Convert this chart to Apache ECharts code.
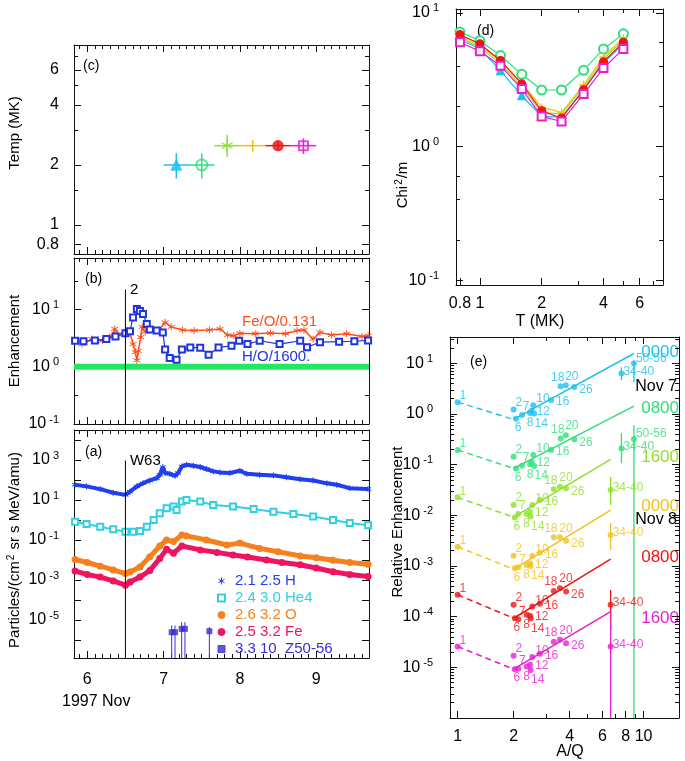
<!DOCTYPE html>
<html><head><meta charset="utf-8">
<script src="https://cdn.jsdelivr.net/npm/echarts@6/dist/echarts.min.js"></script>
<style>html,body{margin:0;padding:0;background:#fff;}#chart{width:685px;height:761px;}</style>
</head><body><div id="chart"></div>
<script>
// ================= DATA =================
// Panel (a): particle intensities vs time (day of 1997 Nov)
const hTime  = [5.84,5.99,6.17,6.34,6.5,6.56,6.65,6.73,6.82,6.91,6.95,6.99,7.02,7.08,7.15,7.19,7.24,7.3,7.39,7.48,7.56,7.65,7.74,7.87,8.0,8.09,8.26,8.44,8.61,8.79,8.96,9.14,9.27,9.44,9.68];
const hFlux  = [58,48,35,23,18,26,48,69,95,123,182,447,224,204,162,224,479,575,513,447,355,270,240,224,290,204,182,170,138,110,95,68,58,39,35];
const heTime = [5.84,5.99,6.17,6.34,6.5,6.6,6.69,6.78,6.87,6.95,7.04,7.13,7.17,7.24,7.3,7.48,7.65,7.91,8.18,8.44,8.7,8.96,9.22,9.44,9.68];
const heFlux = [0.82,0.63,0.46,0.34,0.26,0.26,0.28,0.46,1.0,2.2,3.9,4.7,3.2,8.3,10,8.3,5.6,4.7,3.5,2.6,2.0,1.5,1.0,0.7,0.55];
const oTime  = [5.84,6.0,6.17,6.34,6.5,6.56,6.69,6.82,6.95,7.04,7.13,7.24,7.3,7.56,7.83,8.0,8.26,8.5,8.79,9.0,9.22,9.44,9.68];
const oFlux  = [0.0106,0.0075,0.0049,0.0032,0.0021,0.0025,0.0045,0.0144,0.05,0.1,0.083,0.178,0.16,0.1,0.056,0.07,0.038,0.026,0.016,0.013,0.0098,0.0075,0.0062];
const feTime = [5.84,6.0,6.17,6.34,6.5,6.56,6.69,6.82,6.95,7.04,7.13,7.24,7.48,7.7,7.91,8.1,8.35,8.55,8.79,9.0,9.22,9.44,9.68];
const feFlux = [0.0028,0.0019,0.0014,0.0009,0.00055,0.0008,0.0014,0.003,0.0118,0.034,0.022,0.05,0.032,0.024,0.0178,0.014,0.01,0.0075,0.0058,0.004,0.0026,0.0019,0.0015];
const zTime  = [7.106,7.15,7.237,7.28,7.6];
const zFlux  = [2.45e-6,2.45e-6,3.6e-6,3.6e-6,2.75e-6];
const zFluxHi= [5.3e-6,5.3e-6,7.8e-6,7.8e-6,4.4e-6];
const zFluxLo= [1e-9,1e-9,1e-9,1e-9,1e-9];
const legendNames = ['2.1 2.5 H','2.4 3.0 He4','2.6 3.2 O','2.5 3.2 Fe','3.3 10  Z50-56'];
const shockTime = 6.5;
const shockTopA = 900, shockTopB = 22;

// Panel (b): abundance ratios
const feoTime  = [5.84,5.93,6.06,6.2,6.33,6.36,6.4,6.5,6.56,6.6,6.63,6.65,6.67,6.7,6.72,6.76,6.85,6.94,7.02,7.1,7.25,7.4,7.6,7.74,7.84,7.92,8.0,8.2,8.4,8.6,8.75,8.84,8.96,9.05,9.2,9.4,9.6,9.68];
const feoRatio = [2.86,2.5,3.06,2.86,3.5,4.6,3.7,4.0,3.9,2.5,1.8,1.3,1.9,3.3,5.0,4.1,4.5,4.4,6.0,5.0,4.4,4.3,4.4,4.6,3.6,3.5,3.85,3.8,3.9,3.8,4.3,4.4,3.06,4.0,3.6,3.8,3.4,3.5];
const hoTime   = [5.84,5.95,6.1,6.25,6.37,6.5,6.56,6.6,6.65,6.69,6.73,6.78,6.82,6.91,6.99,7.02,7.08,7.17,7.24,7.35,7.48,7.59,7.72,7.89,7.99,8.1,8.26,8.52,8.79,8.88,9.05,9.3,9.5,9.68];
const hoRatio  = [2.86,2.8,2.9,3.06,3.4,3.85,4.2,7.3,10.3,9.5,8.4,5.6,4.5,4.3,4.0,2.0,1.42,1.33,2.0,2.18,2.15,1.62,2.18,2.33,2.86,2.5,2.86,2.5,2.86,2.2,2.7,2.75,2.8,2.9];
const refLevel = 1;

// Panel (c): source temperatures per 8-h interval
const tempTime  = [7.167,7.5,7.833,8.167,8.5,8.833];
const tempStart = [7.0,7.333,7.667,8.0,8.333,8.667];
const tempEnd   = [7.333,7.667,8.0,8.333,8.667,9.0];
const tempMK    = [2.0,2.0,2.5,2.5,2.5,2.5];
const tempLo    = [1.71,1.71,2.2,2.33,2.36,2.27];
const tempHi    = [2.29,2.29,2.83,2.67,2.63,2.72];

// Panel (d): chi^2/m vs T
const chiT = [0.8,1.0,1.26,1.6,2.0,2.5,3.2,4.0,5.0];
const chiNov7_0000 = [6.3,5.4,3.7,2.4,1.68,1.66,2.66,4.2,5.9];
const chiNov7_0800 = [7.2,6.2,4.8,3.47,2.65,2.65,3.72,5.38,6.97];
const chiNov7_1600 = [6.5,5.5,4.2,2.8,1.8,1.75,2.8,4.5,6.3];
const chiNov8_0000 = [6.7,5.6,4.4,3.0,1.97,1.8,2.9,4.7,6.5];
const chiNov8_0800 = [6.88,5.86,4.4,2.94,1.85,1.63,2.66,4.3,6.03];
const chiNov8_1600 = [6.03,5.16,4.03,2.69,1.68,1.54,2.47,3.87,5.38];

// Panel (e): relative enhancement vs A/Q
const eLabels   = ['1','2','6','7','8','10','12','14','16','18','20','26','34-40','50-56'];
const aqAt2MK   = [1.0,2.0,2.06,2.22,2.45,2.55,2.5,2.58,3.18,3.58,3.82,4.24,7.6,8.87];
const aqAt25MK  = [1.0,2.0,2.03,2.12,2.35,2.52,2.45,2.47,2.77,3.29,3.55,3.83,6.65];
const enhNov7_0000 = [1.71,1.23,0.80,0.95,1.05,1.49,1.15,1.02,1.87,3.53,3.69,3.42,6.28,9.9];
const enhNov7_0800 = [0.194,0.143,0.0843,0.0949,0.102,0.154,0.114,0.094,0.194,0.329,0.382,0.315,0.209,0.32];
const enhNov7_1600 = [0.0226,0.016,0.0091,0.0106,0.0106,0.016,0.0118,0.0095,0.02,0.0325,0.0366,0.034,0.0316];
const enhNov8_0000 = [0.0024,0.0016,0.0009,0.00094,0.00105,0.00158,0.00113,0.001,0.00183,0.00368,0.00368,0.00316,0.0041];
const enhNov8_0800 = [0.00027,0.000171,9.3e-5,8.9e-5,1.09e-4,1.58e-4,1.04e-4,9.3e-5,1.79e-4,3.22e-4,3.65e-4,3.12e-4,1.71e-4];
const enhNov8_1600 = [2.58e-5,1.69e-5,9.2e-6,9.4e-6,1.04e-5,1.59e-5,1.12e-5,8.9e-6,1.85e-5,3.2e-5,3.5e-5,3.0e-5,2.58e-5];
const fitStartAQ = [2,2,2,2,2,2];
const fitStartVal = [0.78,0.0843,0.0092,8.63e-4,9.3e-5,9.2e-6];
const fitEndAQ  = [8.87,8.87,6.65,6.65,6.65,6.65];
const fitEndVal = [15.6,1.43,0.127,0.0127,1.36e-3,1.26e-4];
const errHi34 = [8.36,0.418,0.0577,0.00705,3.37e-4,1.24e-4];
const errLo34 = [4.63,0.107,0.016,0.00207,5.5e-5,1e-9];
const errHi50 = [11.5,0.6];
const errLo50 = [4.2,1e-9];
const rowTimes = ['0000','0800','1600','0000','0800','1600'];
const rowDays  = ['Nov 7','Nov 8'];

// Tick labels
const dayLabels = [6,7,8,9];
const tempLabels = [0.8,1,2,4,6];
const ratioLabels = [0.1,1,10];
const fluxLabels = [1e-5,1e-3,1e-1,10,1000];
const chiLabels = [0.1,1,10];
const tLabels = [0.8,1,2,4,6];
const enhLabels = [1e-5,1e-4,1e-3,1e-2,1e-1,1,10];
const aqLabels = [1,2,4,6,8,10];

// ================= STYLE / LAYOUT =================
const FONT = '"Liberation Sans", Arial, Helvetica, sans-serif';
const rowColors = ['#1ec0f0','#2ee07a','#8ee02a','#f2c21a','#ee1515','#e81ed0'];
const ASTER = 'path://M5,0L5,10M0.67,2.5L9.33,7.5M0.67,7.5L9.33,2.5';
const PLUS = 'path://M5,0L5,10M0,5L10,5';
const rowSymbols = ['triangle','emptyCircle',ASTER,PLUS,'circle','emptyRect'];
const RICH = {
  b: {fontSize: 16, fontFamily: FONT, color: '#000'},
  s: {fontSize: 11, fontFamily: FONT, color: '#000', verticalAlign: 'bottom', padding: [0,0,9,3]}
};
const fmtLog = v => '{b|10}{s|' + Math.round(Math.log10(v)) + '}';
const fmtPlain = v => '{b|' + v + '}';

const dayMinor = []; for (let k = 58; k <= 96; k++) if (k % 10) dayMinor.push(k / 10);
const decades = (a, b) => { const r = []; for (let e = a; e <= b; e++) r.push(Math.pow(10, e)); return r; };
const logMinor = (a, b, ms) => { const r = []; for (let e = a; e <= b; e++) ms.forEach(m => r.push(m * Math.pow(10, e))); return r; };

const xAxes = [], yAxes = [];
function addAxes(list, gridIndex, type, min, max, posA, posB, major, minor, labels, fmt, margin) {
  const idx = list.length;
  [posA, posB].forEach((pos, k) => {
    const common = {type, gridIndex, min, max, position: pos,
      splitLine: {show: false}, minorTick: {show: false}, minorSplitLine: {show: false}};
    list.push(Object.assign({}, common, {
      axisLine: {show: true, onZero: false, lineStyle: {color: '#111', width: 1}},
      axisTick: {show: true, inside: true, length: 7, customValues: major, lineStyle: {color: '#111', width: 1}},
      axisLabel: (k === 0 && labels) ? {show: true, customValues: labels, formatter: fmt, margin: margin,
        color: '#000', fontSize: 16, fontFamily: FONT, rich: RICH} : {show: false}
    }));
    list.push(Object.assign({}, common, {
      axisLine: {show: false, onZero: false},
      axisTick: {show: true, inside: true, length: 4, customValues: minor, lineStyle: {color: '#111', width: 1}},
      axisLabel: {show: false}
    }));
  });
  return idx;
}
const DMIN = 5.826, DMAX = 9.692;
// grid 0 (c)
const xC = addAxes(xAxes, 0, 'value', DMIN, DMAX, 'bottom', 'top', dayLabels, dayMinor, null);
const yC = addAxes(yAxes, 0, 'log', 0.715, 8.0, 'left', 'right', tempLabels, [1.5,3,5,7], tempLabels, fmtPlain, 15);
// grid 1 (b)
const xB = addAxes(xAxes, 1, 'value', DMIN, DMAX, 'bottom', 'top', dayLabels, dayMinor, null);
const yB = addAxes(yAxes, 1, 'log', 0.1, 80, 'left', 'right', decades(-1,1), [0.316,3.16,31.6], ratioLabels, fmtLog, 15);
// grid 2 (a)
const xA = addAxes(xAxes, 2, 'value', DMIN, DMAX, 'bottom', 'top', dayLabels, dayMinor, dayLabels, fmtPlain, 14);
const yA = addAxes(yAxes, 2, 'log', 1.26e-7, 3.16e4, 'left', 'right', decades(-6,4), [], fluxLabels, fmtLog, 15);
// grid 3 (d)
const xD = addAxes(xAxes, 3, 'log', 0.765, 7.8, 'bottom', 'top', tLabels, [3,5,7], tLabels, fmtPlain, 11);
const yD = addAxes(yAxes, 3, 'log', 0.092, 10.7, 'left', 'right', decades(-1,1), logMinor(-1,0,[2,4,6]), chiLabels, fmtLog, 17);
// grid 4 (e)
const xE = addAxes(xAxes, 4, 'log', 0.91, 15.5, 'bottom', 'top', aqLabels, [3,5,7,9], aqLabels, fmtPlain, 11);
const yE = addAxes(yAxes, 4, 'log', 1e-6, 33, 'left', 'right', decades(-6,1), logMinor(-6,1,[2,3,4,5,6,7,8,9]), enhLabels, fmtLog, 17);

const zip = (xs, ys) => xs.map((x, i) => [x, ys[i]]);
const series = [];

// ---------- (c) ----------
series.push({type: 'scatter', xAxisIndex: xC, yAxisIndex: yC, z: 3,
  data: tempTime.map((t, i) => ({value: [t, tempMK[i]], symbol: rowSymbols[i],
    symbolSize: [10,11,11,10,10,9][i],
    itemStyle: {color: rowColors[i], borderColor: rowColors[i], borderWidth: 1.3}}))});
series.push({type: 'custom', xAxisIndex: xC, yAxisIndex: yC, z: 4, clip: true,
  data: tempTime.map((t, i) => [t, tempMK[i], tempLo[i], tempHi[i], tempStart[i], tempEnd[i]]),
  renderItem: (params, api) => {
    const c = rowColors[params.dataIndex];
    const a = api.coord([api.value(4), api.value(1)]), b = api.coord([api.value(5), api.value(1)]);
    const v1 = api.coord([api.value(0), api.value(2)]), v2 = api.coord([api.value(0), api.value(3)]);
    return {type: 'group', children: [
      {type: 'line', shape: {x1: a[0], y1: a[1], x2: b[0], y2: b[1]}, style: {stroke: c, lineWidth: 1.5}},
      {type: 'line', shape: {x1: v1[0], y1: v1[1], x2: v2[0], y2: v2[1]}, style: {stroke: c, lineWidth: 1.5}}
    ]};
  }});

// ---------- (b) ----------
series.push({type: 'line', xAxisIndex: xB, yAxisIndex: yB, data: [[DMIN, refLevel], [DMAX, refLevel]],
  symbol: 'none', lineStyle: {color: '#22e860', width: 6}, z: 1});
series.push({type: 'line', xAxisIndex: xB, yAxisIndex: yB, data: zip(feoTime, feoRatio),
  symbol: ASTER, symbolSize: 7, lineStyle: {color: '#ff4d1a', width: 1.5},
  itemStyle: {color: '#ff4d1a', borderColor: '#ff4d1a', borderWidth: 1}, z: 3});
series.push({type: 'line', xAxisIndex: xB, yAxisIndex: yB, data: zip(hoTime, hoRatio),
  symbol: 'emptyRect', symbolSize: 6, lineStyle: {color: '#2035e0', width: 1.2},
  itemStyle: {color: '#2035e0', borderColor: '#2035e0', borderWidth: 1}, z: 4});
series.push({type: 'line', xAxisIndex: xB, yAxisIndex: yB,
  data: [[shockTime, 0.1], {value: [shockTime, shockTopB], label: {show: true, formatter: '2', position: 'right', distance: 4,
    color: '#000', fontSize: 15, fontFamily: FONT}}],
  symbol: 'circle', symbolSize: 1, itemStyle: {color: '#000'}, lineStyle: {color: '#000', width: 1}, z: 5});

// ---------- (a) ----------
series.push({name: legendNames[0], type: 'line', xAxisIndex: xA, yAxisIndex: yA, data: zip(hTime, hFlux),
  symbol: ASTER, symbolSize: 6, lineStyle: {color: '#1f3ff0', width: 4},
  itemStyle: {color: '#1f3ff0', borderColor: '#1f3ff0', borderWidth: 1}, z: 3});
series.push({name: legendNames[1], type: 'line', xAxisIndex: xA, yAxisIndex: yA, data: zip(heTime, heFlux),
  symbol: 'emptyRect', symbolSize: 6, lineStyle: {color: '#30d0e0', width: 2},
  itemStyle: {color: '#30d0e0', borderColor: '#30d0e0', borderWidth: 1}, z: 3});
series.push({name: legendNames[2], type: 'line', xAxisIndex: xA, yAxisIndex: yA, data: zip(oTime, oFlux),
  symbol: 'circle', symbolSize: 7, lineStyle: {color: '#f5801e', width: 5},
  itemStyle: {color: '#f5801e'}, z: 3});
series.push({name: legendNames[3], type: 'line', xAxisIndex: xA, yAxisIndex: yA, data: zip(feTime, feFlux),
  symbol: 'circle', symbolSize: 7, lineStyle: {color: '#ee1460', width: 5},
  itemStyle: {color: '#ee1460'}, z: 3});
series.push({type: 'custom', xAxisIndex: xA, yAxisIndex: yA, clip: true, z: 3,
  data: zTime.map((t, i) => [t, zFlux[i], zFluxLo[i], zFluxHi[i]]),
  renderItem: (params, api) => {
    const a = api.coord([api.value(0), api.value(2)]), b = api.coord([api.value(0), api.value(3)]);
    return {type: 'line', shape: {x1: a[0], y1: a[1], x2: b[0], y2: b[1]}, style: {stroke: '#3a2fd0', lineWidth: 1}};
  }});
series.push({name: legendNames[4], type: 'scatter', xAxisIndex: xA, yAxisIndex: yA, data: zip(zTime, zFlux),
  symbol: 'rect', symbolSize: 6, itemStyle: {color: '#3a2fd0'}, z: 4});
series.push({type: 'line', xAxisIndex: xA, yAxisIndex: yA,
  data: [[shockTime, 1e-8], {value: [shockTime, shockTopA], label: {show: true, formatter: 'W63', position: 'right', distance: 4,
    color: '#000', fontSize: 15, fontFamily: FONT}}],
  symbol: 'circle', symbolSize: 1, itemStyle: {color: '#000'}, lineStyle: {color: '#000', width: 1}, z: 5});

// ---------- (d) ----------
const chiRows = [chiNov7_0000, chiNov7_0800, chiNov7_1600, chiNov8_0000, chiNov8_0800, chiNov8_1600];
[0,2,3,1,5,4].forEach(r => {
  series.push({type: 'line', xAxisIndex: xD, yAxisIndex: yD, data: zip(chiT, chiRows[r]),
    symbol: rowSymbols[r], symbolSize: r === 1 ? 9 : 8, lineStyle: {color: rowColors[r], width: 1.2},
    itemStyle: {color: rowColors[r], borderColor: rowColors[r], borderWidth: 1.2}, z: 3 + r});
});

// ---------- (e) ----------
const labelPlace = {
  '1': {position: 'right', offset: [-3, -6]},
  '2': {position: 'right', offset: [-3, -7]},
  '6': {position: 'bottom', offset: [2, -2]},
  '7': {position: 'top', offset: [4, 3]},
  '8': {position: 'bottom', offset: [0, -1]},
  '10': {position: 'right', offset: [-2, -6]},
  '12': {position: 'right', offset: [0, 1]},
  '14': {position: 'bottom', offset: [7, -1]},
  '16': {position: 'right', offset: [0, 2]},
  '18': {position: 'top', offset: [-3, 2]},
  '20': {position: 'top', offset: [6, 2]},
  '26': {position: 'right', offset: [0, 3]},
  '34-40': {position: 'right', offset: [-3, -2]},
  '50-56': {position: 'right', offset: [-3, -5]}
};
const enhRows = [enhNov7_0000, enhNov7_0800, enhNov7_1600, enhNov8_0000, enhNov8_0800, enhNov8_1600];
enhRows.forEach((vals, r) => {
  const aq = r < 2 ? aqAt2MK : aqAt25MK;
  const c = rowColors[r];
  // dashed H extension
  series.push({type: 'line', xAxisIndex: xE, yAxisIndex: yE, symbol: 'none',
    data: [[aq[0], vals[0]], [fitStartAQ[r], fitStartVal[r]]], lineStyle: {color: c, width: 1.5, type: [6, 4]}, z: 2});
  // fit line
  series.push({type: 'line', xAxisIndex: xE, yAxisIndex: yE, symbol: 'none',
    data: [[fitStartAQ[r], fitStartVal[r]], [fitEndAQ[r], fitEndVal[r]]], lineStyle: {color: c, width: 1.5}, z: 2});
  // error bars
  const eb = [[aq[12], errLo34[r], errHi34[r]]];
  if (r < 2) eb.push([aq[13], errLo50[r], errHi50[r]]);
  series.push({type: 'custom', xAxisIndex: xE, yAxisIndex: yE, clip: true, z: 2, data: eb,
    renderItem: (params, api) => {
      const a = api.coord([api.value(0), api.value(1)]), b = api.coord([api.value(0), api.value(2)]);
      return {type: 'line', shape: {x1: a[0], y1: a[1], x2: b[0], y2: b[1]}, style: {stroke: c, lineWidth: 1.3}};
    }});
  // points with element labels
  series.push({type: 'scatter', xAxisIndex: xE, yAxisIndex: yE, symbol: 'circle', symbolSize: 6, z: 3,
    itemStyle: {color: c},
    label: {show: true, formatter: '{b}', color: c, fontSize: 12, fontFamily: FONT, distance: 2},
    data: vals.map((v, i) => ({name: eLabels[i], value: [aq[i], v], label: labelPlace[eLabels[i]]}))});
});

// ================= TEXT =================
const T = (x, y, text, opts) => Object.assign({type: 'text', x: x, y: y, silent: true,
  style: Object.assign({text: text, fill: '#000', font: '15px ' + FONT, align: 'left', verticalAlign: 'middle'}, opts || {})});
const R = (x, y, text, rich) => ({type: 'text', x: x, y: y, rotation: Math.PI / 2, silent: true,
  style: {text: text, fill: '#000', font: '15px ' + FONT, align: 'center', verticalAlign: 'middle', rich: rich}});
const richSup = {n: {fontSize: 15, fontFamily: FONT, fill: '#000'}, s: {fontSize: 10, fontFamily: FONT, fill: '#000', verticalAlign: 'bottom', padding: [0, 1, 8, 1]}};
const graphic = [
  T(83, 66, '(c)', {font: '14px ' + FONT}),
  T(85, 279, '(b)', {font: '14px ' + FONT}),
  T(85, 452, '(a)', {font: '14px ' + FONT}),
  T(477, 31, '(d)', {font: '14px ' + FONT}),
  T(470, 362, '(e)', {font: '14px ' + FONT}),
  R(15, 133, 'Temp (MK)'),
  R(15, 341, 'Enhancement'),
  R(15, 550, '{n|Particles/(cm}{s|2}{n| sr s MeV/amu)}', richSup),
  R(403, 185, '{n|Chi}{s|2}{n|/m}', richSup),
  R(398, 522, 'Relative Enhancement'),
  T(540, 322, 'T (MK)', {align: 'center', font: '16px ' + FONT}),
  T(570, 752, 'A/Q', {align: 'center', font: '16px ' + FONT}),
  T(62, 702, '1997 Nov', {font: '16px ' + FONT}),
  T(242, 322, 'Fe/O/0.131', {fill: '#ff4d1a'}),
  T(242, 357, 'H/O/1600.', {fill: '#2035e0'}),
  T(679, 352, rowTimes[0], {fill: rowColors[0], align: 'right', font: '17px ' + FONT}),
  T(677, 387, rowDays[0], {align: 'right', font: '16px ' + FONT}),
  T(679, 408, rowTimes[1], {fill: rowColors[1], align: 'right', font: '17px ' + FONT}),
  T(679, 457, rowTimes[2], {fill: rowColors[2], align: 'right', font: '17px ' + FONT}),
  T(679, 506, rowTimes[3], {fill: rowColors[3], align: 'right', font: '17px ' + FONT}),
  T(677, 520, rowDays[1], {align: 'right', font: '16px ' + FONT}),
  T(679, 557, rowTimes[4], {fill: rowColors[4], align: 'right', font: '17px ' + FONT}),
  T(679, 618, rowTimes[5], {fill: rowColors[5], align: 'right', font: '17px ' + FONT})
];

const legendColors = ['#1f3ff0','#30d0e0','#f5801e','#ee1460','#3a2fd0'];
const legendIcons = [ASTER, 'emptyRect', 'circle', 'circle', 'rect'];

const option = {
  animation: false,
  backgroundColor: '#fff',
  textStyle: {fontFamily: FONT},
  grid: [
    {left: 74, top: 45, width: 295, height: 209},
    {left: 74, top: 258, width: 295, height: 166},
    {left: 74, top: 430, width: 295, height: 228},
    {left: 456, top: 9, width: 207, height: 276},
    {left: 450, top: 337, width: 229, height: 381}
  ],
  xAxis: xAxes,
  yAxis: yAxes,
  legend: {
    left: 212, top: 568, orient: 'vertical', itemGap: 1, itemWidth: 7, itemHeight: 7, selectedMode: false,
    textStyle: {fontSize: 15, fontFamily: FONT, lineHeight: 16, padding: [0, 0, 0, 5]},
    data: legendNames.map((n, i) => ({name: n, icon: legendIcons[i], textStyle: {color: legendColors[i]},
      itemStyle: {color: legendColors[i], borderColor: legendColors[i], borderWidth: 1}}))
  },
  series: series,
  graphic: graphic
};
const chart = echarts.init(document.getElementById('chart'), null, {renderer: 'canvas', width: 685, height: 761});
chart.setOption(option);
</script></body></html>
